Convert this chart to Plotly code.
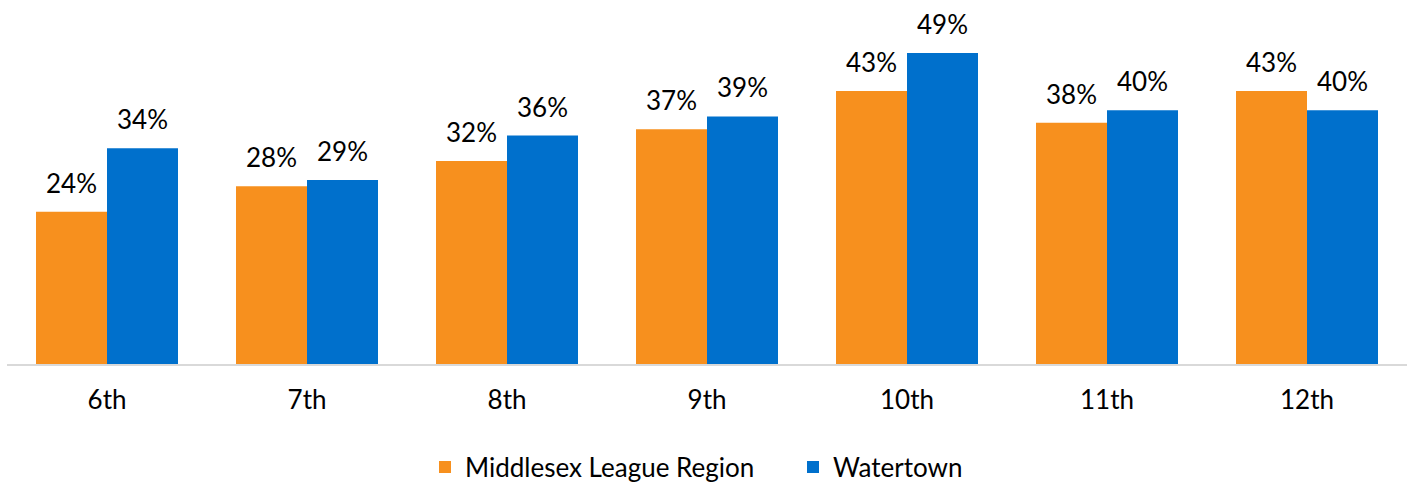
import plotly.graph_objects as go

grades = ["6th", "7th", "8th", "9th", "10th", "11th", "12th"]
middlesex = [24, 28, 32, 37, 43, 38, 43]
watertown = [34, 29, 36, 39, 49, 40, 40]

series = [
    ("Middlesex League Region", middlesex, "#F7901E"),
    ("Watertown", watertown, "#0070CC"),
]

FONT = "Lato"
FS = 26

fig = go.Figure()
for name, vals, color in series:
    fig.add_trace(go.Bar(
        name=name, x=grades, y=vals, marker_color=color,
        marker_line_width=0,
    ))

# value labels above each bar
offsets = [-0.1775, 0.1775]
for (name, vals, color), off in zip(series, offsets):
    for i, v in enumerate(vals):
        fig.add_annotation(
            x=i + off, y=v, xref="x", yref="y", text=f"{v}%",
            showarrow=False, yanchor="bottom", yshift=11,
            font=dict(family=FONT, size=FS, color="#000000"),
        )

fig.update_layout(
    width=1411, height=485,
    margin=dict(l=7, r=4, t=20, b=121, autoexpand=False),
    plot_bgcolor="white", paper_bgcolor="white",
    barmode="group", bargap=0.29, bargroupgap=0,
    showlegend=True,
    legend=dict(
        orientation="h",
        xref="container", x=425 / 1411, xanchor="left",
        yref="container", y=18 / 485, yanchor="middle",
        font=dict(family=FONT, size=FS, color="#000000"),
        itemwidth=30,
        entrywidthmode="pixels", entrywidth=323,
    ),
    xaxis=dict(
        showline=True, linecolor="#D9D9D9", linewidth=2,
        ticks="", tickfont=dict(family=FONT, size=FS, color="#000000"),
        ticklabelstandoff=12,
        range=[-0.5, 6.5],
    ),
    yaxis=dict(
        range=[0, 54.2], showgrid=False, showticklabels=False,
        zeroline=False, showline=False,
    ),
)

fig.write_html("out.html")
